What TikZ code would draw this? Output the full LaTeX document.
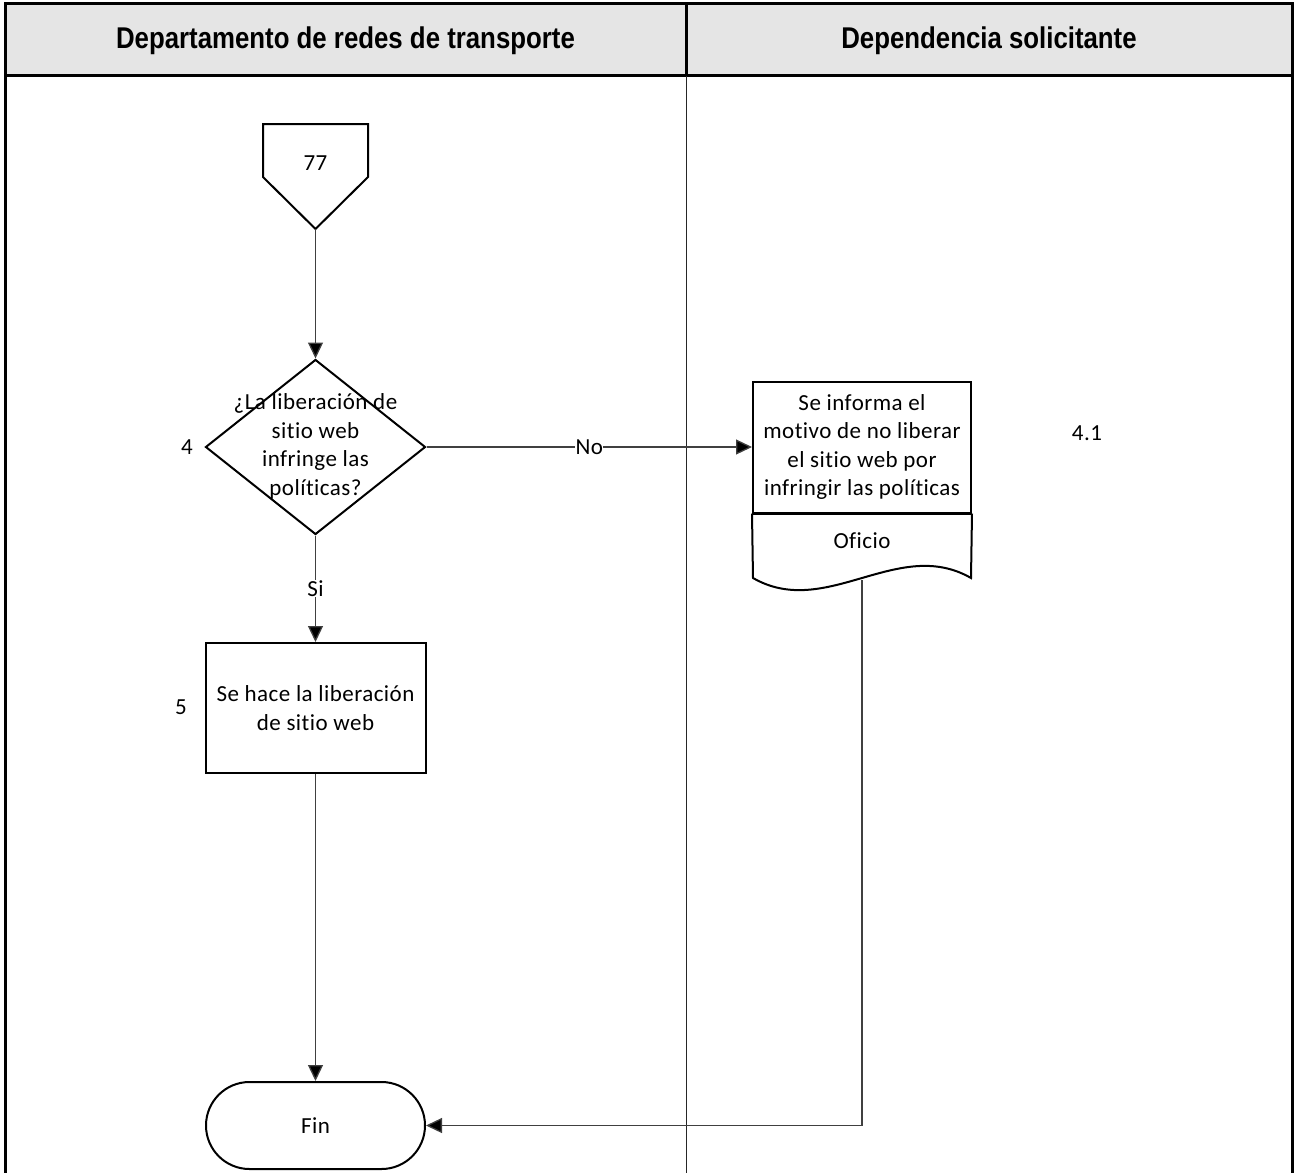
\documentclass[tikz,border=0pt]{standalone}
\usepackage{fontspec}
\setmainfont{Carlito}[LetterSpace=2, Ligatures=CommonOff]
\newfontfamily\hdrfont{Liberation Sans}[FakeStretch=0.86]
\usetikzlibrary{shapes.geometric,shapes.misc,arrows.meta}

\tikzset{
  shapeline/.style={draw=black, line width=2pt, fill=white},
  txt/.style={font=\fontsize{23}{28.5}\selectfont, align=center, inner sep=0pt},
  hdr/.style={font=\hdrfont\bfseries\fontsize{30}{34}\selectfont, anchor=base, inner sep=0pt},
  conn/.style={draw=black!75, line width=1.3pt, -{Triangle[length=16pt,width=15pt,fill=black]}},
  lbl/.style={font=\fontsize{23}{28}\selectfont, fill=white, inner sep=0.5pt},
  procbox/.style={shapeline, rectangle, minimum width=220pt, minimum height=130pt, inner sep=0pt},
  decbox/.style={shapeline, diamond, minimum width=220pt, minimum height=175pt, inner sep=0pt},
  termbox/.style={shapeline, rounded rectangle, minimum width=219pt, minimum height=87pt, inner sep=0pt},
  docbox/.style={shapeline, rectangle, minimum width=218pt, minimum height=131pt, inner sep=0pt},
}

\begin{document}
\begin{tikzpicture}[x=1pt, y=-1pt]
  \useasboundingbox (0,0) rectangle (1294,1173);

  % swimlane header band
  \fill[black!10] (5,3.5) rectangle (1292,75.5);
  \draw[line width=3pt] (5,3.5) -- (1292,3.5);
  \draw[line width=3pt] (5,75.5) -- (1292,75.5);
  \draw[line width=2.5pt] (686.5,3.5) -- (686.5,75.5);
  \draw[line width=1.2pt, black!85] (686.5,75.5) -- (686.5,1173);
  \draw[line width=3pt] (5,2) -- (5,1173);
  \draw[line width=3pt] (1292,2) -- (1292,1173);

  \node[hdr] (laneA) at (345.5,48) {Departamento de redes de transporte};
  \node[hdr] (laneB) at (989,48) {Dependencia solicitante};

  % off-page connector 77
  \draw[shapeline] (263,124) -- (368,124) -- (368,177) -- (315.5,229) -- (263,177) -- cycle;
  \coordinate (opc) at (315.5,229);
  \node[txt] (opctext) at (315.5,163) {77};

  % decision 4
  \node[decbox] (dec) at (315.5,447) {};
  \node[txt] (dectext) at (315.5,446.5) {¿La liberación de\\sitio web\\infringe las\\políticas?};
  \node[txt] (n4) at (187,447) {4};

  % process 5
  \node[procbox] (proc) at (315.5,708) {};
  \node[txt] (proctext) at (315.5,708) {Se hace la liberación\\de sitio web};
  \node[txt] (n5) at (181,707) {5};

  % document 4.1
  \node[docbox] (doc) at (862,447) {};
  \draw[shapeline] (doc.south west) -- (753,578)
     .. controls (826,620) and (898,536) .. (971,578) -- (doc.south east);
  \draw[line width=2pt] (doc.south west) -- (doc.south east);
  \node[txt] (doctext) at (862,447) {Se informa el\\motivo de no liberar\\el sitio web por\\infringir las políticas};
  \node[txt] (doclabel) at (862,541) {Oficio};
  \coordinate (docb) at (862,580);
  \node[txt] (n41) at (1087,433) {4.1};

  % terminator
  \node[termbox] (fin) at (315.5,1125.5) {};
  \node[txt] (fintext) at (315.5,1126) {Fin};

  % connectors
  \draw[conn] (opc) -- (dec.north);
  \draw[conn] (dec.south) -- node[lbl] {Si} (proc.north);
  \draw[conn] (dec.east) -- node[lbl] {No} (doc.west);
  \draw[conn] (proc.south) -- (fin.north);
  \draw[conn] (docb) |- (fin.east);
\end{tikzpicture}
\end{document}
